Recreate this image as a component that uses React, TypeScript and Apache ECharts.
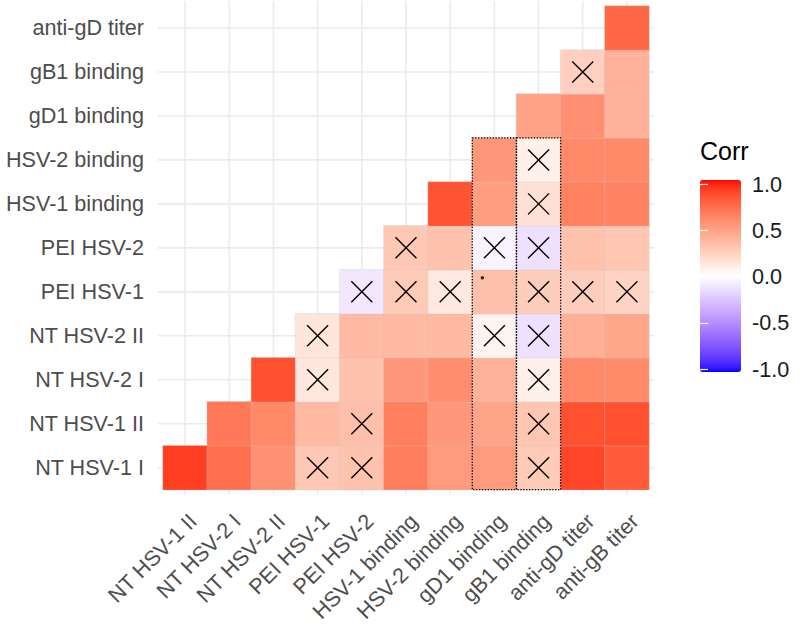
import React, { useEffect, useRef } from "react";
import * as echarts from "echarts";

// ---- data ----
const xCats = [
  "NT HSV-1 II", "NT HSV-2 I", "NT HSV-2 II", "PEI HSV-1", "PEI HSV-2",
  "HSV-1 binding", "HSV-2 binding", "gD1 binding", "gB1 binding",
  "anti-gD titer", "anti-gB titer",
];
const yCats = [
  "NT HSV-1 I", "NT HSV-1 II", "NT HSV-2 I", "NT HSV-2 II", "PEI HSV-1",
  "PEI HSV-2", "HSV-1 binding", "HSV-2 binding", "gD1 binding",
  "gB1 binding", "anti-gD titer",
];
// each row lists correlations for x columns starting at the row's own index
const rowNTHSV1I = [0.90, 0.72, 0.56, 0.29, 0.32, 0.66, 0.52, 0.52, 0.28, 0.88, 0.80];
const rowNTHSV1II = [0.68, 0.60, 0.36, 0.33, 0.65, 0.53, 0.47, 0.30, 0.84, 0.84];
const rowNTHSV2I = [0.84, 0.13, 0.32, 0.53, 0.58, 0.40, 0.08, 0.60, 0.59];
const rowNTHSV2II = [0.14, 0.36, 0.36, 0.36, 0.06, -0.13, 0.41, 0.46];
const rowPEIHSV1 = [-0.10, 0.28, 0.12, 0.33, 0.26, 0.26, 0.23];
const rowPEIHSV2 = [0.29, 0.32, -0.05, -0.13, 0.32, 0.30];
const rowHSV1binding = [0.83, 0.50, 0.16, 0.64, 0.63];
const rowHSV2binding = [0.53, 0.08, 0.60, 0.60];
const rowGD1binding = [0.48, 0.57, 0.40];
const rowGB1binding = [0.25, 0.40];
const rowAntiGDtiter = [0.75];
const corrRows = [
  rowNTHSV1I, rowNTHSV1II, rowNTHSV2I, rowNTHSV2II, rowPEIHSV1, rowPEIHSV2,
  rowHSV1binding, rowHSV2binding, rowGD1binding, rowGB1binding, rowAntiGDtiter,
];
// non-significant cells [x, y]
const insignificant: [string, string][] = [
  ["PEI HSV-1", "NT HSV-1 I"], ["PEI HSV-2", "NT HSV-1 I"], ["gB1 binding", "NT HSV-1 I"],
  ["PEI HSV-2", "NT HSV-1 II"], ["gB1 binding", "NT HSV-1 II"],
  ["PEI HSV-1", "NT HSV-2 I"], ["gB1 binding", "NT HSV-2 I"],
  ["PEI HSV-1", "NT HSV-2 II"], ["gD1 binding", "NT HSV-2 II"], ["gB1 binding", "NT HSV-2 II"],
  ["PEI HSV-2", "PEI HSV-1"], ["HSV-1 binding", "PEI HSV-1"], ["HSV-2 binding", "PEI HSV-1"],
  ["gB1 binding", "PEI HSV-1"], ["anti-gD titer", "PEI HSV-1"], ["anti-gB titer", "PEI HSV-1"],
  ["HSV-1 binding", "PEI HSV-2"], ["gD1 binding", "PEI HSV-2"], ["gB1 binding", "PEI HSV-2"],
  ["gB1 binding", "HSV-1 binding"],
  ["gB1 binding", "HSV-2 binding"],
  ["anti-gD titer", "gB1 binding"],
];
const dottedColumns = ["gD1 binding", "gB1 binding"];
const dottedRowRange: [string, string] = ["NT HSV-1 I", "HSV-2 binding"];
const dotCell: [string, string] = ["gD1 binding", "PEI HSV-1"];

// ---- colour ramp (CIELAB interpolation, like ggplot's gradient2) ----
function toLin(c: number) {
  c /= 255;
  return c <= 0.04045 ? c / 12.92 : Math.pow((c + 0.055) / 1.055, 2.4);
}
function fromLin(c: number) {
  const v = c <= 0.0031308 ? 12.92 * c : 1.055 * Math.pow(c, 1 / 2.4) - 0.055;
  return Math.max(0, Math.min(255, Math.round(v * 255)));
}
function rgbToLab(rgb: number[]) {
  const [r, g, b] = rgb.map(toLin);
  const X = (0.4124 * r + 0.3576 * g + 0.1805 * b) / 0.95047;
  const Y = 0.2126 * r + 0.7152 * g + 0.0722 * b;
  const Z = (0.0193 * r + 0.1192 * g + 0.9505 * b) / 1.08883;
  const f = (t: number) => (t > 0.008856 ? Math.cbrt(t) : 7.787 * t + 16 / 116);
  const fx = f(X), fy = f(Y), fz = f(Z);
  return [116 * fy - 16, 500 * (fx - fy), 200 * (fy - fz)];
}
function labToHex(lab: number[]) {
  const [L, a, bb] = lab;
  const fy = (L + 16) / 116, fx = fy + a / 500, fz = fy - bb / 200;
  const inv = (t: number) => (t * t * t > 0.008856 ? t * t * t : (t - 16 / 116) / 7.787);
  const X = inv(fx) * 0.95047, Y = inv(fy), Z = inv(fz) * 1.08883;
  const r = 3.2406 * X - 1.5372 * Y - 0.4986 * Z;
  const g = -0.9689 * X + 1.8758 * Y + 0.0415 * Z;
  const b = 0.0557 * X - 0.204 * Y + 1.057 * Z;
  return "#" + [r, g, b].map((c) => fromLin(Math.max(0, c)).toString(16).padStart(2, "0")).join("");
}
const labWhite = rgbToLab([255, 255, 255]);
const labRed = rgbToLab([255, 0, 0]);
const labBlue = rgbToLab([0, 0, 255]);
const rampColors: string[] = [];
for (let i = 0; i <= 60; i++) {
  const v = -1 + (2 * i) / 60;
  const end = v < 0 ? labBlue : labRed;
  const t = Math.abs(v);
  rampColors.push(labToHex(labWhite.map((w, k) => w + (end[k] - w) * t)));
}

const FONT = "Liberation Sans, Arial, Helvetica, sans-serif";
const GRID_COLOR = "#ebebeb";
const FS = 21.6;

export default function App() {
  const ref = useRef<HTMLDivElement>(null);
  useEffect(() => {
    if (!ref.current) return;
    const chart = echarts.init(ref.current, undefined, { renderer: "svg" });

    const heatData: number[][] = [];
    corrRows.forEach((row, r) => row.forEach((v, k) => heatData.push([r + k, r, v])));
    const xData = insignificant.map(([x, y]) => [xCats.indexOf(x), yCats.indexOf(y)]);
    const rectData = dottedColumns.map((c) => [
      xCats.indexOf(c), yCats.indexOf(dottedRowRange[0]), yCats.indexOf(dottedRowRange[1]),
    ]);

    const option: any = {
      animation: false,
      backgroundColor: "#ffffff",
      title: {
        text: "Corr",
        left: 695,
        top: 133,
        textStyle: { fontFamily: FONT, fontSize: 25, fontWeight: "normal", color: "#000" },
      },
      grid: [
        { left: 163, right: 151, top: 6, bottom: 133 },
        { left: 700, top: 184, width: 41, height: 185 },
      ],
      xAxis: [
        {
          type: "category", data: xCats, gridIndex: 0,
          axisLine: { show: false }, axisTick: { show: false }, splitLine: { show: false },
          axisLabel: {
            rotate: 45, interval: 0, margin: 20, fontSize: FS, color: "#4d4d4d", fontFamily: FONT,
            align: "right", verticalAlign: "top",
          },
        },
        { type: "value", gridIndex: 1, show: false, min: 0, max: 1 },
      ],
      yAxis: [
        {
          type: "category", data: yCats, gridIndex: 0,
          axisLine: { show: false }, axisTick: { show: false }, splitLine: { show: false },
          axisLabel: { margin: 19, fontSize: FS, color: "#4d4d4d", fontFamily: FONT },
        },
        {
          type: "value", gridIndex: 1, position: "right", min: -1, max: 1, interval: 0.5, z: 10,
          axisLine: { show: false }, splitLine: { show: false },
          axisTick: { show: true, inside: true, length: 8, lineStyle: { color: "#ffffff", width: 1.2 } },
          axisLabel: {
            margin: 11, fontSize: FS, color: "#1a1a1a", fontFamily: FONT,
            formatter: (v: number) => v.toFixed(1),
          },
        },
        {
          type: "value", gridIndex: 1, position: "left", min: -1, max: 1, interval: 0.5, z: 10,
          axisLine: { show: false }, splitLine: { show: false }, axisLabel: { show: false },
          axisTick: { show: true, inside: true, length: 8, lineStyle: { color: "#ffffff", width: 1.2 } },
        },
      ],
      visualMap: {
        type: "continuous",
        min: -1, max: 1,
        seriesIndex: 2,
        dimension: 2,
        calculable: false,
        showLabel: false,
        text: ["", ""],
        itemWidth: 41,
        itemHeight: 192,
        left: 685,
        top: 165,
        inRange: { color: rampColors },
        hoverLink: false,
      },
      series: [
        {
          type: "custom", name: "vgrid", z: 1, silent: true,
          xAxisIndex: 0, yAxisIndex: 0,
          data: xCats.map((_, i) => [i, 0]),
          renderItem: (params: any, api: any) => {
            const x = api.coord([api.value(0), 0])[0];
            const cs = params.coordSys;
            return {
              type: "line",
              shape: { x1: x, y1: cs.y - 5, x2: x, y2: cs.y + cs.height + 5 },
              style: { stroke: GRID_COLOR, lineWidth: 1.6 },
            };
          },
        },
        {
          type: "custom", name: "hgrid", z: 1, silent: true,
          xAxisIndex: 0, yAxisIndex: 0,
          data: yCats.map((_, i) => [0, i]),
          renderItem: (params: any, api: any) => {
            const y = api.coord([0, api.value(1)])[1];
            const cs = params.coordSys;
            return {
              type: "line",
              shape: { x1: cs.x - 5, y1: y, x2: cs.x + cs.width + 5, y2: y },
              style: { stroke: GRID_COLOR, lineWidth: 1.6 },
            };
          },
        },
        {
          type: "heatmap", name: "corr", z: 2,
          xAxisIndex: 0, yAxisIndex: 0,
          data: heatData,
          itemStyle: { borderColor: "rgba(200,200,200,0.55)", borderWidth: 0.6 },
          emphasis: { disabled: true },
        },
        {
          type: "custom", name: "cross", z: 3, silent: true,
          xAxisIndex: 0, yAxisIndex: 0,
          data: xData,
          renderItem: (params: any, api: any) => {
            const [cx, cy] = api.coord([api.value(0), api.value(1)]);
            const h = 10.5;
            const style = { stroke: "#000", lineWidth: 1.4 };
            return {
              type: "group",
              children: [
                { type: "line", shape: { x1: cx - h, y1: cy - h, x2: cx + h, y2: cy + h }, style },
                { type: "line", shape: { x1: cx - h, y1: cy + h, x2: cx + h, y2: cy - h }, style },
              ],
            };
          },
        },
        {
          type: "custom", name: "box", z: 4, silent: true,
          xAxisIndex: 0, yAxisIndex: 0,
          data: rectData,
          renderItem: (params: any, api: any) => {
            const c = api.value(0), r0 = api.value(1), r1 = api.value(2);
            const [w, h] = api.size([1, 1]);
            const top = api.coord([c, r1]);
            const bot = api.coord([c, r0]);
            return {
              type: "rect",
              shape: { x: top[0] - w / 2, y: top[1] - h / 2, width: w, height: bot[1] - top[1] + h },
              style: { fill: "none", stroke: "#000", lineWidth: 1.3, lineDash: [1.3, 1.6] },
            };
          },
        },
        {
          type: "scatter", name: "dot", z: 4, silent: true,
          xAxisIndex: 0, yAxisIndex: 0,
          data: [[xCats.indexOf(dotCell[0]), yCats.indexOf(dotCell[1])]],
          symbol: "circle", symbolSize: 3.5, symbolOffset: [-12, -14],
          itemStyle: { color: "#000" },
        },
      ],
    };
    chart.setOption(option);
    return () => chart.dispose();
  }, []);
  return (
    <div
      ref={ref}
      style={{ position: "absolute", left: 0, top: 0, width: 800, height: 625 }}
    />
  );
}
